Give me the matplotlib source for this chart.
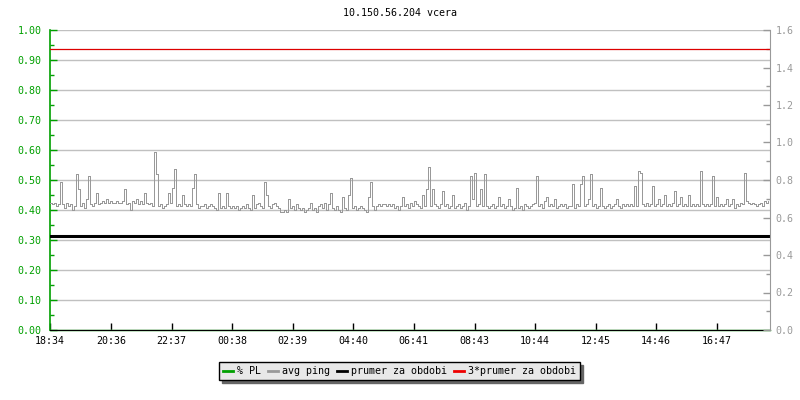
import matplotlib
matplotlib.use("Agg")
import matplotlib.pyplot as plt
from matplotlib.lines import Line2D
from matplotlib.ticker import MultipleLocator, FormatStrFormatter

# ---------------- data ----------------
title = "10.150.56.204 vcera"
start_label = "18:34"
tick_labels = ["18:34", "20:36", "22:37", "00:38", "02:39", "04:40",
               "06:41", "08:43", "10:44", "12:45", "14:46", "16:47"]
period_minutes = 1440
sample_step_minutes = 4

# avg ping [ms], one sample every 4 minutes starting at 18:34
avg_ping = [
    0.68, 0.67, 0.68, 0.66, 0.67, 0.79, 0.67, 0.65, 0.68, 0.66, 0.67, 0.64, 0.66, 0.83, 0.75, 0.66, 0.68, 0.65, 0.70, 0.82,
    0.67, 0.66, 0.68, 0.73, 0.67, 0.68, 0.69, 0.68, 0.70, 0.68, 0.69, 0.68, 0.68, 0.69, 0.68, 0.68, 0.69, 0.75, 0.67, 0.68,
    0.64, 0.69, 0.68, 0.70, 0.67, 0.69, 0.67, 0.73, 0.68, 0.67, 0.68, 0.66, 0.95, 0.83, 0.66, 0.67, 0.65, 0.66, 0.67, 0.73,
    0.68, 0.76, 0.86, 0.66, 0.67, 0.66, 0.72, 0.67, 0.66, 0.67, 0.66, 0.76, 0.83, 0.67, 0.65, 0.66, 0.66, 0.67, 0.65, 0.66,
    0.67, 0.66, 0.65, 0.64, 0.73, 0.65, 0.66, 0.65, 0.73, 0.66, 0.65, 0.66, 0.65, 0.66, 0.64, 0.65, 0.66, 0.65, 0.67, 0.65,
    0.64, 0.72, 0.65, 0.67, 0.68, 0.66, 0.65, 0.79, 0.72, 0.66, 0.65, 0.67, 0.68, 0.66, 0.65, 0.63, 0.63, 0.64, 0.63, 0.70,
    0.65, 0.66, 0.64, 0.67, 0.65, 0.64, 0.65, 0.63, 0.64, 0.65, 0.68, 0.64, 0.65, 0.63, 0.66, 0.67, 0.65, 0.68, 0.64, 0.67,
    0.73, 0.65, 0.64, 0.66, 0.64, 0.63, 0.71, 0.65, 0.64, 0.72, 0.81, 0.65, 0.66, 0.64, 0.65, 0.66, 0.65, 0.64, 0.63, 0.71,
    0.79, 0.66, 0.64, 0.66, 0.67, 0.66, 0.67, 0.67, 0.66, 0.67, 0.66, 0.67, 0.65, 0.66, 0.64, 0.66, 0.71, 0.66, 0.67, 0.65,
    0.68, 0.66, 0.69, 0.67, 0.66, 0.65, 0.72, 0.66, 0.75, 0.87, 0.66, 0.75, 0.67, 0.66, 0.65, 0.67, 0.74, 0.66, 0.67, 0.65,
    0.66, 0.72, 0.65, 0.66, 0.67, 0.65, 0.66, 0.68, 0.64, 0.66, 0.82, 0.70, 0.84, 0.66, 0.67, 0.75, 0.66, 0.83, 0.66, 0.65,
    0.66, 0.67, 0.65, 0.66, 0.71, 0.66, 0.67, 0.65, 0.66, 0.70, 0.66, 0.64, 0.65, 0.76, 0.65, 0.66, 0.64, 0.67, 0.66, 0.65,
    0.66, 0.67, 0.68, 0.82, 0.66, 0.67, 0.65, 0.69, 0.71, 0.66, 0.67, 0.66, 0.70, 0.65, 0.66, 0.67, 0.66, 0.67, 0.65, 0.66,
    0.66, 0.78, 0.65, 0.67, 0.66, 0.78, 0.82, 0.66, 0.67, 0.70, 0.83, 0.66, 0.67, 0.65, 0.66, 0.76, 0.66, 0.65, 0.66, 0.67,
    0.65, 0.66, 0.67, 0.70, 0.66, 0.65, 0.67, 0.66, 0.67, 0.66, 0.67, 0.66, 0.77, 0.66, 0.85, 0.84, 0.67, 0.66, 0.68, 0.66,
    0.67, 0.77, 0.66, 0.67, 0.70, 0.66, 0.67, 0.72, 0.66, 0.67, 0.66, 0.68, 0.74, 0.66, 0.67, 0.71, 0.66, 0.67, 0.66, 0.72,
    0.66, 0.67, 0.66, 0.67, 0.66, 0.85, 0.67, 0.66, 0.67, 0.66, 0.67, 0.82, 0.66, 0.71, 0.66, 0.67, 0.66, 0.67, 0.70, 0.66,
    0.67, 0.70, 0.65, 0.67, 0.66, 0.68, 0.67, 0.84, 0.69, 0.68, 0.67, 0.68, 0.67, 0.66, 0.67, 0.68, 0.66, 0.69, 0.68, 0.69,
]
packet_loss_times = [0, 1440]
packet_loss = [0.0, 0.0]          # % PL
period_mean = 0.5                 # prumer za obdobi [ms]
period_mean_x3 = 1.5              # 3*prumer za obdobi [ms]

legend_labels = ["% PL", "avg ping", "prumer za obdobi", "3*prumer za obdobi"]

# ---------------- styling ----------------
FONT = "DejaVu Sans Mono"
FS = 7.2
GREEN = "#00a000"
GRAY = "#999999"
GRID = "#c0c0c0"
plt.rcParams["font.family"] = FONT
plt.rcParams["font.size"] = FS


def to_min(lbl):
    h, m = map(int, lbl.split(":"))
    sh, sm = map(int, start_label.split(":"))
    return ((h * 60 + m) - (sh * 60 + sm)) % 1440


times = [i * sample_step_minutes for i in range(len(avg_ping))]

fig = plt.figure(figsize=(8, 4), dpi=100)
ax = fig.add_axes([50 / 800, 70 / 400, 720 / 800, 300 / 400])
ax2 = ax.twinx()

# left axis (% PL)
ax.set_xlim(0, period_minutes)
ax.set_ylim(0, 1.0)
ax.yaxis.set_major_locator(MultipleLocator(0.1))
ax.yaxis.set_minor_locator(MultipleLocator(0.05))
ax.yaxis.set_major_formatter(FormatStrFormatter("%.2f"))
ax.grid(axis="y", which="major", color=GRID, lw=1.0)
ax.set_axisbelow(True)
ax.tick_params(axis="y", which="both", direction="in", colors=GREEN, labelcolor=GREEN, pad=6)
ax.tick_params(axis="y", which="major", length=5, width=1)
ax.tick_params(axis="y", which="minor", length=3, width=1)
ax.set_xticks([to_min(t) for t in tick_labels])
ax.set_xticklabels(tick_labels)
ax.tick_params(axis="x", direction="in", length=5, width=1, colors="black", pad=4)
ax.spines["left"].set_color(GREEN)
ax.spines["left"].set_linewidth(1.2)
ax.spines["bottom"].set_color("black")
ax.spines["top"].set_visible(False)
ax.spines["right"].set_visible(False)

ax.plot(packet_loss_times, packet_loss, color=GREEN, lw=1, zorder=2, clip_on=False)

# right axis (ping ms)
ax2.set_ylim(0, 1.6)
ax2.yaxis.set_major_locator(MultipleLocator(0.2))
ax2.yaxis.set_minor_locator(MultipleLocator(0.1))
ax2.yaxis.set_major_formatter(FormatStrFormatter("%.1f"))
ax2.tick_params(axis="y", which="both", direction="in", colors=GRAY, labelcolor=GRAY, pad=4)
ax2.tick_params(axis="y", which="major", length=5, width=1)
ax2.tick_params(axis="y", which="minor", length=3, width=1)
ax2.spines["right"].set_color(GRAY)
for s in ("left", "top", "bottom"):
    ax2.spines[s].set_visible(False)

ax2.plot(times, avg_ping, drawstyle="steps-post", color=GRAY, lw=0.72, antialiased=False)
ax2.axhline(period_mean, color="black", lw=2.2)
ax2.axhline(period_mean_x3, color="#dd0000", lw=0.9)

fig.text(0.5, 1 - 13 / 400, title, ha="center", va="center", fontsize=FS, color="black")

handles = [
    Line2D([], [], color=GREEN, lw=2),
    Line2D([], [], color=GRAY, lw=2),
    Line2D([], [], color="black", lw=2),
    Line2D([], [], color="#ee0000", lw=2),
]
leg = fig.legend(handles, legend_labels, loc="center", bbox_to_anchor=(399.5 / 800, 1 - 371 / 400),
                 ncol=4, frameon=True, fancybox=False, shadow={"color": "#666666", "alpha": 1.0},
                 facecolor="#e8e8e8", edgecolor="black", fontsize=FS,
                 handlelength=1.0, handletextpad=0.4, columnspacing=0.7,
                 borderpad=0.4, borderaxespad=0)
leg.get_frame().set_linewidth(1.0)

fig.savefig("out.png", dpi=100)
